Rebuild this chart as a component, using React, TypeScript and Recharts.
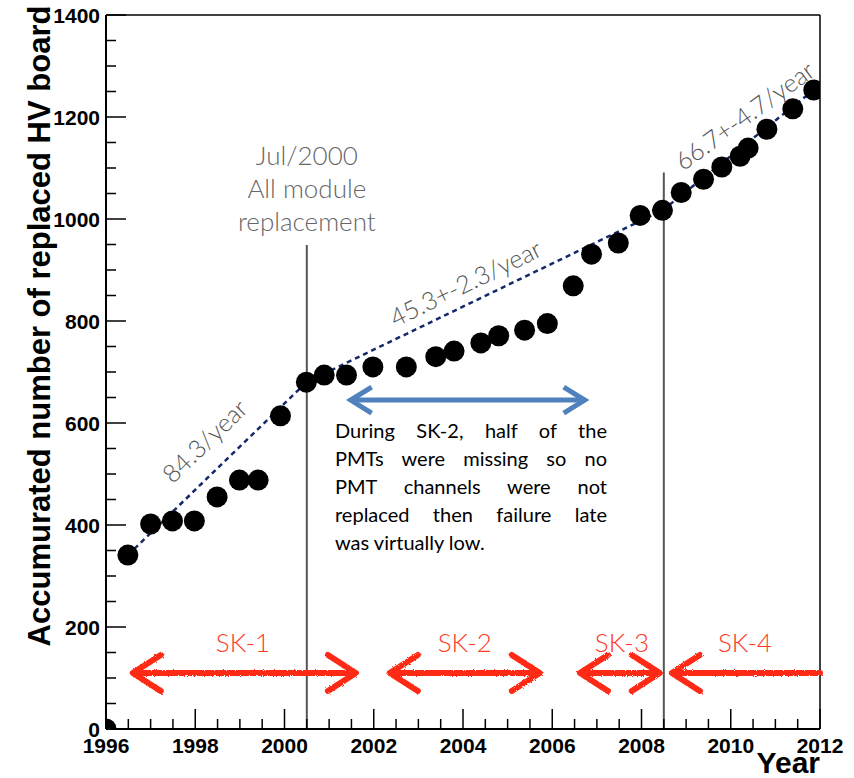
import React from 'react';
import {
  ComposedChart,
  Scatter,
  XAxis,
  YAxis,
  ReferenceLine,
  ReferenceDot,
} from 'recharts';

// replaced HV boards
const years = [
  1996.0, 1996.49, 1997.0, 1997.49, 1997.98, 1998.49, 1998.99, 1999.41, 1999.91,
  2000.49, 2000.89, 2001.39, 2001.98, 2002.73, 2003.39, 2003.8, 2004.4, 2004.8,
  2005.38, 2005.89, 2006.47, 2006.88, 2007.48, 2007.97, 2008.47, 2008.89,
  2009.39, 2009.8, 2010.21, 2010.39, 2010.81, 2011.39, 2011.86,
];
const counts = [
  0, 341, 402, 408, 408, 455, 488, 488, 614, 680, 694, 694, 710, 710, 730, 741,
  757, 771, 782, 795, 869, 931, 953, 1007, 1017, 1052, 1078, 1102, 1123, 1139,
  1176, 1216, 1253,
];

// linear fits per period
const fitFromYear = [1996.49, 2000.49, 2008.47];
const fitFromCount = [341, 680, 1017];
const fitToYear = [2000.49, 2008.47, 2011.86];
const fitToCount = [680, 1017, 1253];
const fitLabels = ['84.3/year', '45.3+-2.3/year', '66.7+-4.7/year'];
const fitLabelYear = [1998.2, 2004.05, 2010.3];
const fitLabelCount = [566, 876, 1204];
const fitLabelAngle = [-44, -26, -36];

// module replacement / period boundaries
const boundaryYears = [2000.5, 2008.5];
const boundaryTops = [949, 1091];
const noteLines = ['Jul/2000', 'All module', 'replacement'];
const noteCounts = [1125, 1061, 996];

// SK periods
const phases = ['SK-1', 'SK-2', 'SK-3', 'SK-4'];
const phaseFrom = [1996.6, 2002.36, 2006.62, 2008.68];
const phaseTo = [2001.6, 2005.72, 2008.41, 2012];
const phaseRightHead = [true, true, true, false];
const phaseLabelYear = [1999.07, 2004.04, 2007.56, 2010.32];
const phaseArrowCount = 110;
const phaseLabelCount = 171;

// SK-2 arrow
const sk2From = 2001.46;
const sk2To = 2006.75;
const sk2Count = 645;
const sk2Text = [
  'During SK-2, half of the',
  'PMTs were missing so no',
  'PMT channels were not',
  'replaced then failure late',
  'was virtually low.',
];

const xMajor = [1996, 1998, 2000, 2002, 2004, 2006, 2008, 2010, 2012];
const yMajor = [0, 200, 400, 600, 800, 1000, 1200, 1400];
const xTicks = Array.from({ length: 33 }, (_, i) => 1996 + i * 0.5);
const yTicks = Array.from({ length: 29 }, (_, i) => i * 50);

const data = years.map((year, i) => ({ year, count: counts[i] }));

const axisFont = '"Liberation Sans", Arial, Helvetica, sans-serif';
const noteFont = 'Lato, "Open Sans", sans-serif';

const XTick = (props: any) => {
  const { x, y, payload } = props;
  const major = xMajor.includes(payload.value);
  return (
    <g>
      <line x1={x} x2={x} y1={y} y2={y - (major ? 20 : 10)} stroke="#000" strokeWidth={1.5} />
      {major && (
        <text x={x} y={y + 24} textAnchor="middle" fontFamily={axisFont} fontWeight="bold" fontSize={21} fill="#000">
          {payload.value}
        </text>
      )}
    </g>
  );
};

const YTick = (props: any) => {
  const { x, y, payload } = props;
  const major = yMajor.includes(payload.value);
  return (
    <g>
      <line x1={x} x2={x + (major ? 20 : 10)} y1={y} y2={y} stroke="#000" strokeWidth={1.5} />
      {major && (
        <text x={x - 6} y={y + 7.5} textAnchor="end" fontFamily={axisFont} fontWeight="bold" fontSize={21} fill="#000">
          {payload.value}
        </text>
      )}
    </g>
  );
};

const YTitle = (props: any) => {
  const { viewBox } = props;
  const x = viewBox.x + 50;
  const y = 326;
  return (
    <text x={x} y={y} transform={`rotate(-90 ${x} ${y})`} textAnchor="middle" fontFamily={axisFont} fontWeight="bold" fontSize={31} fill="#000">
      Accumurated number of replaced HV board
    </text>
  );
};

const XTitle = (props: any) => {
  const { viewBox } = props;
  return (
    <text x={viewBox.x + viewBox.width} y={viewBox.y + 44} textAnchor="end" fontFamily={axisFont} fontWeight="bold" fontSize={30} fill="#000">
      Year
    </text>
  );
};

const Note = (props: any) => {
  const { viewBox, noteText, noteAngle = 0, noteColor = '#555', noteSize = 25 } = props;
  const { x, y } = viewBox;
  return (
    <text
      x={x}
      y={y}
      transform={`rotate(${noteAngle} ${x} ${y})`}
      textAnchor="middle"
      dominantBaseline="central"
      fontFamily={noteFont}
      fontWeight={300}
      fontSize={noteSize}
      fill={noteColor}
    >
      {noteText}
    </text>
  );
};

const arrowShape = (id: string, color: string, width: number, head: number, spread: number, right: boolean) => (p: any) => {
  const { x1, y1, x2, y2 } = p;
  return (
    <g>
      <defs>
        <filter id={id} x="-5%" y="-50%" width="110%" height="200%">
          <feTurbulence type="fractalNoise" baseFrequency="0.9" numOctaves={2} result="n" />
          <feDisplacementMap in="SourceGraphic" in2="n" scale={3} />
        </filter>
      </defs>
      <g
        fill="none"
        stroke={color}
        strokeWidth={width}
        strokeLinecap="round"
        strokeLinejoin="round"
        filter={`url(#${id})`}
      >
        <line x1={x1 + 2} y1={y1} x2={right ? x2 - 2 : x2} y2={y2} />
        <polyline points={`${x1 + head},${y1 - spread} ${x1},${y1} ${x1 + head},${y1 + spread}`} />
        {right && <polyline points={`${x2 - head},${y2 - spread} ${x2},${y2} ${x2 - head},${y2 + spread}`} />}
      </g>
    </g>
  );
};

const plainArrow = (color: string, width: number, head: number, spread: number) => (p: any) => {
  const { x1, y1, x2, y2 } = p;
  return (
    <g fill="none" stroke={color} strokeWidth={width} strokeLinejoin="miter">
      <line x1={x1 + 2} y1={y1} x2={x2 - 2} y2={y2} />
      <polyline points={`${x1 + head},${y1 - spread} ${x1 + 1},${y1} ${x1 + head},${y1 + spread}`} />
      <polyline points={`${x2 - head},${y2 - spread} ${x2 - 1},${y2} ${x2 - head},${y2 + spread}`} />
    </g>
  );
};

const Dot = (p: any) => <circle cx={p.cx} cy={p.cy} r={10.5} fill="#000" />;

export default function App() {
  return (
    <div style={{ position: 'absolute', left: 0, top: 0, width: 854, height: 778, background: '#fff' }}>
      <ComposedChart width={854} height={778} data={data} margin={{ top: 15, right: 34, bottom: 0, left: 0 }}>
        <XAxis
          type="number"
          dataKey="year"
          domain={[1996, 2012]}
          ticks={xTicks}
          interval={0}
          allowDataOverflow
          height={49}
          tickSize={0}
          tickMargin={0}
          tick={<XTick />}
          axisLine={{ stroke: '#000', strokeWidth: 2 }}
          label={<XTitle />}
        />
        <YAxis
          type="number"
          dataKey="count"
          domain={[0, 1400]}
          ticks={yTicks}
          interval={0}
          allowDataOverflow
          width={106}
          tickSize={0}
          tickMargin={0}
          tick={<YTick />}
          axisLine={{ stroke: '#000', strokeWidth: 2 }}
          label={<YTitle />}
        />
        <ReferenceLine y={1400} stroke="#000" strokeWidth={1.5} />
        <ReferenceLine x={2012} stroke="#000" strokeWidth={1.5} />

        {boundaryYears.map((yr, i) => (
          <ReferenceLine
            key={`b${i}`}
            segment={[{ x: yr, y: 0 }, { x: yr, y: boundaryTops[i] }]}
            stroke="#555"
            strokeWidth={2}
          />
        ))}

        {fitFromYear.map((yr, i) => (
          <ReferenceLine
            key={`f${i}`}
            segment={[{ x: yr, y: fitFromCount[i] }, { x: fitToYear[i], y: fitToCount[i] }]}
            stroke="#14286a"
            strokeWidth={2.5}
            strokeDasharray="5 4"
          />
        ))}

        {phases.map((name, i) => (
          <ReferenceLine
            key={`p${i}`}
            segment={[{ x: phaseFrom[i], y: phaseArrowCount }, { x: phaseTo[i], y: phaseArrowCount }]}
            shape={arrowShape(`spray${i}`, '#ff2a14', 6, 28, 18, phaseRightHead[i])}
          />
        ))}

        <ReferenceLine
          segment={[{ x: sk2From, y: sk2Count }, { x: sk2To, y: sk2Count }]}
          shape={plainArrow('#4f81bd', 5, 22, 13)}
        />

        <Scatter data={data} shape={<Dot />} isAnimationActive={false} />

        {fitLabels.map((t, i) => (
          <ReferenceDot
            key={`fl${i}`}
            x={fitLabelYear[i]}
            y={fitLabelCount[i]}
            r={0}
            fill="none"
            stroke="none"
            label={<Note noteText={t} noteAngle={fitLabelAngle[i]} />}
          />
        ))}

        {noteLines.map((t, i) => (
          <ReferenceDot
            key={`n${i}`}
            x={boundaryYears[0]}
            y={noteCounts[i]}
            r={0}
            fill="none"
            stroke="none"
            label={<Note noteText={t} noteColor="#666" noteSize={26} />}
          />
        ))}

        {phases.map((name, i) => (
          <ReferenceDot
            key={`pl${i}`}
            x={phaseLabelYear[i]}
            y={phaseLabelCount}
            r={0}
            fill="none"
            stroke="none"
            label={<Note noteText={name} noteColor="#ff3a26" noteSize={26} />}
          />
        ))}
      </ComposedChart>

      <div
        style={{
          position: 'absolute',
          left: 335,
          top: 416,
          width: 272,
          fontFamily: noteFont,
          fontSize: 20,
          color: '#000',
        }}
      >
        {sk2Text.map((line, i) => (
          <div
            key={i}
            style={{
              height: 28,
              lineHeight: '28px',
              whiteSpace: 'nowrap',
              textAlign: 'justify',
              textAlignLast: i === sk2Text.length - 1 ? 'left' : 'justify',
            }}
          >
            {line}
          </div>
        ))}
      </div>
    </div>
  );
}
